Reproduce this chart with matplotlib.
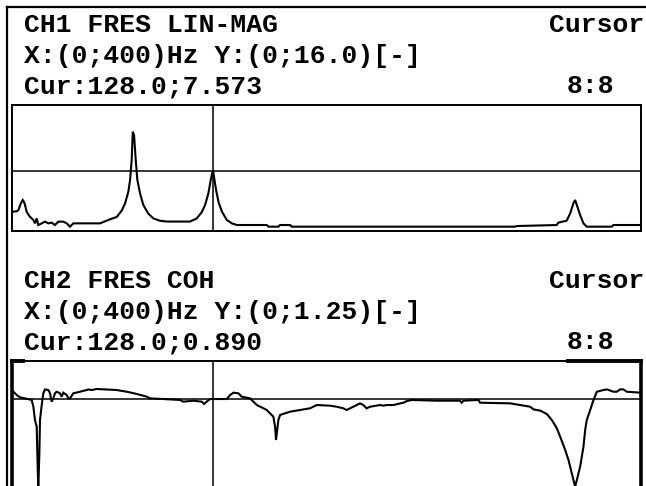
# -*- coding: utf-8 -*-
"""
Analyzer screen copy: CH1 FRES LIN-MAG and CH2 FRES COH
"""

import numpy as np
import matplotlib
matplotlib.use('Agg')
import matplotlib.pyplot as plt
from matplotlib.lines import Line2D

# ---------------------------------------------------------------------------
# data
cursor_hz = 128.0;

ch1_title = 'CH1 FRES LIN-MAG';
ch1_range = 'X:(0;400)Hz Y:(0;16.0)[-]';
ch1_cur = 'Cur:128.0;7.573';
ch1_ymax = 16.0;
ch1_cur_val = 7.573;
ch1_f = [0, 3.0, 4.1, 5.6, 6.8, 7.6, 8.3, 9.3, 11, 12.5,
         13.6, 14.6, 15.7, 16.7, 18.9, 21, 23.1, 25.2, 27.3, 29.5,
         32.6, 34.8, 36.9, 39, 56, 62.3, 66.6, 69.8, 71.9, 74,
         75.1, 76.1, 76.8, 77.6, 78.7, 79.7, 81.4, 83.5, 86.7, 89.9,
         94.1, 98.4, 113.2, 117.5, 120.7, 122.8, 124.9, 126.4, 127.5, 128.0,
         128.5, 129.8, 131.3, 133.4, 136.6, 139.8, 143, 162, 163.1, 169.4,
         170.5, 176.8, 177.9, 319.9, 321, 346.4, 347.4, 352.7, 354.9, 357,
         358.1, 359.2, 361.3, 363.4, 365.5, 381.4, 382.5, 400]
ch1_v = [2.45, 2.5, 2.67, 3.5, 3.94, 3.7, 3.3, 2.45, 1.9, 1.6,
         1.4, 0.97, 1.6, 0.76, 0.97, 1.19, 0.97, 1.06, 0.76, 1.19,
         1.19, 0.97, 0.55, 0.97, 0.97, 1.48, 1.78, 2.6, 3.5, 5.0,
         6.5, 9.0, 12.6, 12.2, 9.0, 6.5, 4.8, 3.3, 2.2, 1.6,
         1.3, 1.2, 1.2, 1.6, 2.4, 3.3, 4.8, 6.5, 7.5, 7.573,
         6.8, 5.2, 3.7, 2.5, 1.4, 0.97, 0.76, 0.76, 0.55, 0.55,
         0.76, 0.76, 0.55, 0.55, 0.63, 0.76, 1.06, 1.31, 2.2, 3.5,
         3.94, 3.3, 2.03, 0.97, 0.55, 0.55, 0.76, 0.76]

ch2_title = 'CH2 FRES COH';
ch2_range = 'X:(0;400)Hz Y:(0;1.25)[-]';
ch2_cur = 'Cur:128.0;0.890';
ch2_ymax = 1.25;
ch2_cur_val = 0.890;
ch2_f = [0, 0.9, 3.0, 5.1, 8.3, 12.5, 13.6, 14.6, 15.7, 16.1,
         16.7, 17.4, 17.8, 18.9, 19.9, 21, 23.1, 24.2, 25.2, 26.3,
         27.3, 28.4, 30.5, 31.6, 32.6, 34.8, 35.8, 36.9, 39, 43.2,
         47.5, 48.5, 50.7, 53.9, 66.6, 73, 79.3, 85.7, 87.8, 96.3,
         106.8, 109, 115.3, 120.7, 122.1, 123.8, 126, 128, 136.6, 138.7,
         140.8, 144, 146.1, 151.4, 153.5, 155.7, 159.9, 162, 164.1, 166.2,
         167.3, 167.9, 169.4, 170.5, 176.8, 183.2, 189.5, 193.8, 202.2, 206.5,
         210.7, 212.8, 215, 219.2, 221.3, 223.4, 225.5, 227.7, 234, 236.2,
         238.3, 242.5, 248.9, 251, 254.2, 270.1, 284.9, 286, 287.1, 296.6,
         297.7, 316.8, 323.1, 329.5, 331.6, 335.9, 340.1, 343.3, 346.5, 348.6,
         351.8, 353.9, 356, 358.1, 359.2, 361.3, 363.4, 364.5, 365.5, 367.7,
         369.8, 371.9, 376.1, 378.3, 382.5, 384.6, 386.7, 388.8, 391, 400]
ch2_v = [0.975, 0.959, 0.928, 0.906, 0.896, 0.881, 0.817, 0.691, 0.628, 0.376,
         0.03, 0.376, 0.691, 0.833, 0.944, 0.981, 0.975, 0.944, 0.865, 0.896,
         0.944, 0.959, 0.944, 0.912, 0.950, 0.928, 0.896, 0.896, 0.944, 0.959,
         0.975, 0.981, 0.975, 0.985, 0.975, 0.959, 0.938, 0.912, 0.896, 0.890,
         0.881, 0.865, 0.874, 0.865, 0.843, 0.865, 0.890, 0.890, 0.890, 0.928,
         0.950, 0.944, 0.912, 0.896, 0.865, 0.833, 0.802, 0.786, 0.754, 0.723,
         0.628, 0.502, 0.691, 0.739, 0.770, 0.786, 0.802, 0.833, 0.827, 0.817,
         0.802, 0.786, 0.802, 0.833, 0.849, 0.833, 0.802, 0.817, 0.833, 0.827,
         0.833, 0.833, 0.855, 0.870, 0.881, 0.874, 0.874, 0.855, 0.874, 0.881,
         0.855, 0.849, 0.833, 0.817, 0.792, 0.780, 0.748, 0.691, 0.612, 0.533,
         0.407, 0.312, 0.186, 0.06, 0.123, 0.249, 0.438, 0.597, 0.691, 0.786,
         0.881, 0.959, 0.975, 0.981, 0.959, 0.959, 0.981, 0.981, 0.959, 0.950]

W = 646; H = 486;
FONT = dict(family='Liberation Mono', weight='bold', size=19, color='black');


def px_axes(fig, x0, y0, x1, y1):
    # pixel box (top-left origin) -> axes
    return fig.add_axes([x0/W, 1 - y1/H, (x1 - x0)/W, (y1 - y0)/H]);


def px_text(fig, x, y, s):
    fig.text(x/W, 1 - y/H, s, ha='left', va='center', **FONT);


def draw_panel(fig, top, title, rng, cur, f, v, ymax, cur_val, active):
    px_text(fig, 24, top - 80, title);
    px_text(fig, 549, top - 80, 'Cursor');
    px_text(fig, 24, top - 49, rng);
    px_text(fig, 24, top - 19, cur);
    px_text(fig, 567, top - 19, '8:8');
    ax = px_axes(fig, 12, top, 641, top + 126 if not active else top + 132);
    ax.plot(f, v, color='black', lw=1.5, solid_joinstyle='miter');
    ax.axvline(cursor_hz, color='black', lw=1.1);
    ax.axhline(cur_val, color='black', lw=1.1);
    ax.set_xlim(0, 400);
    ax.set_ylim(0, ymax);
    ax.set_xticks([]); ax.set_yticks([]);
    for s in ax.spines.values():
        s.set_linewidth(1.4);
        s.set_color('black');
    if active:
        ax.spines['left'].set_linewidth(2.6);
        ax.spines['right'].set_linewidth(2.6);
        ax.plot([0, 7], [ymax, ymax], color='black', lw=2.8, clip_on=False);
        ax.plot([353.6, 400], [ymax, ymax], color='black', lw=2.8, clip_on=False);
    return ax;


def main():
    fig = plt.figure(figsize=(W/100, H/100), dpi=100);
    fig.patch.set_facecolor('white');
    # outer screen frame
    fig.add_artist(Line2D([7/W, 7/W], [0, 1 - 7/H], color='black', lw=1.6));
    fig.add_artist(Line2D([7/W, 1], [1 - 7/H, 1 - 7/H], color='black', lw=1.6));
    draw_panel(fig, 105, ch1_title, ch1_range, ch1_cur, ch1_f, ch1_v, ch1_ymax, ch1_cur_val, False);
    draw_panel(fig, 361, ch2_title, ch2_range, ch2_cur, ch2_f, ch2_v, ch2_ymax, ch2_cur_val, True);
    fig.savefig('out.png', dpi=100, facecolor='white');
    plt.close(fig);
    return 0;


if __name__ == "__main__":
    main()
